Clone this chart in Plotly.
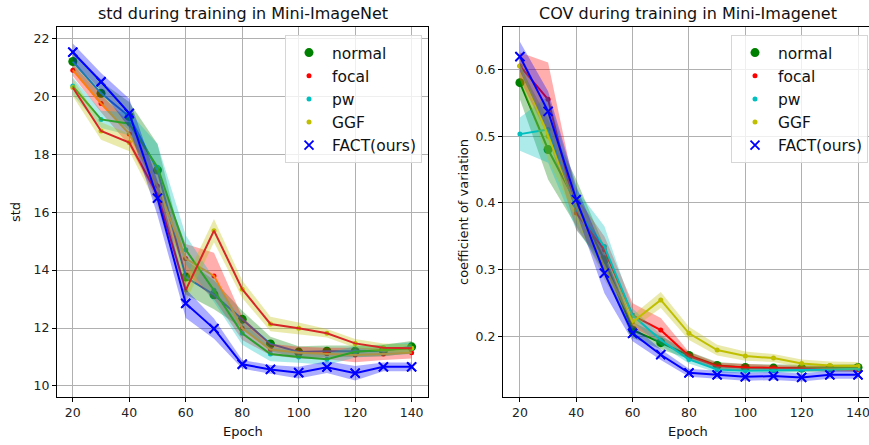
import plotly.graph_objects as go

epochs = [20, 30, 40, 50, 60, 70, 80, 90, 100, 110, 120, 130, 140]
series_names = ["normal", "focal", "pw", "GGF", "FACT(ours)"]

# std during training (means and band half-widths)
std_normal = [21.2, 20.1, 19.3, 17.45, 13.76, 13.15, 12.3, 11.45, 11.17, 11.2, 11.2, 11.22, 11.35]
std_focal = [20.9, 19.75, 18.7, 16.9, 14.4, 13.8, 11.99, 11.26, 11.15, 11.12, 11.07, 11.1, 11.15]
std_pw = [20.35, 19.2, 19.05, 17.55, 14.7, 13.3, 11.82, 11.1, 11.0, 10.92, 11.18, 11.23, 11.3]
std_ggf = [20.3, 18.8, 18.4, 16.6, 13.31, 15.36, 13.34, 12.14, 11.99, 11.82, 11.47, 11.32, 11.3]
std_fact = [21.52, 20.5, 19.41, 16.48, 12.85, 11.98, 10.75, 10.57, 10.46, 10.65, 10.44, 10.66, 10.66]

std_normal_sd = [0.3, 0.4, 0.5, 0.9, 0.6, 0.5, 0.3, 0.25, 0.2, 0.2, 0.2, 0.2, 0.2]
std_focal_sd = [0.2, 0.3, 0.4, 0.5, 0.5, 0.8, 0.4, 0.2, 0.2, 0.2, 0.25, 0.2, 0.2]
std_pw_sd = [0.3, 0.3, 0.4, 0.8, 0.5, 0.4, 0.4, 0.25, 0.2, 0.2, 0.2, 0.2, 0.2]
std_ggf_sd = [0.3, 0.3, 0.3, 0.4, 0.4, 0.4, 0.3, 0.25, 0.2, 0.15, 0.15, 0.15, 0.15]
std_fact_sd = [0.3, 0.3, 0.5, 0.6, 0.5, 0.35, 0.15, 0.15, 0.2, 0.2, 0.25, 0.15, 0.15]

# coefficient of variation during training
cov_normal = [0.58, 0.48, 0.40, 0.315, 0.21, 0.191, 0.172, 0.157, 0.154, 0.153, 0.153, 0.153, 0.154]
cov_focal = [0.605, 0.555, 0.385, 0.33, 0.232, 0.21, 0.171, 0.156, 0.154, 0.153, 0.152, 0.152, 0.151]
cov_pw = [0.503, 0.51, 0.39, 0.335, 0.232, 0.195, 0.166, 0.151, 0.149, 0.149, 0.150, 0.151, 0.152]
cov_ggf = [0.605, 0.50, 0.395, 0.305, 0.222, 0.255, 0.205, 0.180, 0.171, 0.168, 0.160, 0.157, 0.156]
cov_fact = [0.619, 0.537, 0.405, 0.295, 0.205, 0.173, 0.146, 0.143, 0.140, 0.141, 0.139, 0.143, 0.143]

cov_normal_sd = [0.025, 0.045, 0.035, 0.02, 0.012, 0.01, 0.006, 0.005, 0.005, 0.005, 0.005, 0.005, 0.005]
cov_focal_sd = [0.02, 0.055, 0.025, 0.02, 0.018, 0.018, 0.006, 0.005, 0.005, 0.004, 0.004, 0.004, 0.004]
cov_pw_sd = [0.025, 0.05, 0.03, 0.03, 0.01, 0.008, 0.006, 0.005, 0.004, 0.004, 0.004, 0.004, 0.004]
cov_ggf_sd = [0.02, 0.035, 0.02, 0.02, 0.01, 0.012, 0.01, 0.008, 0.007, 0.006, 0.006, 0.006, 0.006]
cov_fact_sd = [0.022, 0.03, 0.02, 0.03, 0.012, 0.008, 0.006, 0.006, 0.006, 0.006, 0.006, 0.006, 0.006]

std_means = [std_normal, std_focal, std_pw, std_ggf, std_fact]
std_sds = [std_normal_sd, std_focal_sd, std_pw_sd, std_ggf_sd, std_fact_sd]
cov_means = [cov_normal, cov_focal, cov_pw, cov_ggf, cov_fact]
cov_sds = [cov_normal_sd, cov_focal_sd, cov_pw_sd, cov_ggf_sd, cov_fact_sd]

# styles
mk_colors = ["#008000", "#ff0000", "#00bfbf", "#bfbf00", "#0000ff"]
band_rgb = [(0, 128, 0), (255, 0, 0), (0, 191, 191), (191, 191, 0), (0, 0, 255)]
std_line_colors = ["#1f77b4", "#ff7f0e", "#2ca02c", "#d62728", "#0000ff"]
mk_symbols = ["circle", "circle", "circle", "circle", "x-thin"]
mk_sizes = [9, 5, 5, 5, 9]

fig = go.Figure()


def add_panel(means, sds, line_colors, xa, ya, legend_name):
    for i, name in enumerate(series_names):
        sym = mk_symbols[i]
        marker = dict(color=mk_colors[i], size=mk_sizes[i], symbol=sym)
        if sym == "x-thin":
            marker["line"] = dict(color=mk_colors[i], width=1.8)
        fig.add_trace(go.Scatter(
            x=epochs, y=means[i], mode="markers", name=name,
            marker=marker, xaxis=xa, yaxis=ya, legend=legend_name,
            legendgroup=legend_name + name))
    for i, name in enumerate(series_names):
        m = means[i]
        s = sds[i]
        up = [a + b for a, b in zip(m, s)]
        lo = [a - b for a, b in zip(m, s)]
        r, g, b = band_rgb[i]
        fig.add_trace(go.Scatter(
            x=epochs + epochs[::-1], y=up + lo[::-1], fill="toself",
            fillcolor=f"rgba({r},{g},{b},0.32)", line=dict(width=0),
            mode="lines", showlegend=False, hoverinfo="skip",
            xaxis=xa, yaxis=ya))
        fig.add_trace(go.Scatter(
            x=epochs, y=m, mode="lines",
            line=dict(color=line_colors[i], width=2),
            showlegend=False, xaxis=xa, yaxis=ya))
    # FACT markers on top of its line
    fig.add_trace(go.Scatter(
        x=epochs, y=means[4], mode="markers", showlegend=False,
        marker=dict(color=mk_colors[4], size=mk_sizes[4], symbol="x-thin",
                    line=dict(color=mk_colors[4], width=1.8)),
        xaxis=xa, yaxis=ya, hoverinfo="skip"))


add_panel(std_means, std_sds, std_line_colors, "x", "y", "legend")
add_panel(cov_means, cov_sds, mk_colors, "x2", "y2", "legend2")

W, H = 869, 445
font_family = "DejaVu Sans"
ydom = [1 - 396.7 / H, 1 - 26.7 / H]

axis_common = dict(
    showline=True, linecolor="black", linewidth=1, mirror=True,
    showgrid=True, gridcolor="#b0b0b0", gridwidth=1,
    ticks="outside", ticklen=4, tickcolor="black", tickwidth=1,
    tickfont=dict(family=font_family, size=12.5, color="#222"),
    zeroline=False, automargin=False, ticklabeloverflow="allow",
)

legend_common = dict(
    font=dict(family=font_family, size=15.5, color="#111"),
    bgcolor="rgba(255,255,255,0.8)", bordercolor="#d6d6d6", borderwidth=1,
    xanchor="right", yanchor="top", yref="paper", xref="paper",
    traceorder="grouped", tracegroupgap=0, itemwidth=36,
)

fig.update_layout(
    width=W, height=H,
    margin=dict(l=0, r=0, t=0, b=0),
    paper_bgcolor="white", plot_bgcolor="white",
    template="none",
    xaxis=dict(domain=[57 / W, 428 / W], range=[14.4, 145.8],
               tickvals=[20, 40, 60, 80, 100, 120, 140], anchor="y", **axis_common),
    yaxis=dict(domain=ydom, range=[9.63, 22.40],
               tickvals=[10, 12, 14, 16, 18, 20, 22], anchor="x", **axis_common),
    xaxis2=dict(domain=[503 / W, 1.0], range=[14.0, 143.9],
                tickvals=[20, 40, 60, 80, 100, 120, 140], anchor="y2",
                **{**axis_common, "mirror": True}),
    yaxis2=dict(domain=ydom, range=[0.1102, 0.6637],
                tickvals=[0.2, 0.3, 0.4, 0.5, 0.6], ticktext=["0.2", "0.3", "0.4", "0.5", "0.6"],
                anchor="x2", **{**axis_common, "mirror": False}),
    legend=dict(x=422 / W, y=1 - 35 / H, **legend_common),
    legend2=dict(x=868 / W, y=1 - 35 / H, **legend_common),
    showlegend=True,
)

ann_font = dict(family=font_family, size=13, color="#111")
title_font = dict(family=font_family, size=16, color="#111")
annotations = [
    dict(text="std during training in Mini-ImageNet", x=242.5 / W, y=1 - 14 / H, font=title_font),
    dict(text="COV during training in Mini-Imagenet", x=688 / W, y=1 - 14 / H, font=title_font),
    dict(text="Epoch", x=242.5 / W, y=1 - 431 / H, font=ann_font),
    dict(text="Epoch", x=688 / W, y=1 - 431 / H, font=ann_font),
    dict(text="std", x=15 / W, y=1 - 212 / H, font=ann_font, textangle=-90),
    dict(text="coefficient of variation", x=463 / W, y=1 - 212 / H, font=ann_font, textangle=-90),
]
for a in annotations:
    fig.add_annotation(xref="paper", yref="paper", showarrow=False,
                       xanchor="center", yanchor="middle", **a)

fig.write_html(
    "out.html",
    config={"displayModeBar": False},
    post_script="document.body.style.margin='0';document.body.style.padding='0';"
                "document.body.style.overflow='hidden';",
)
